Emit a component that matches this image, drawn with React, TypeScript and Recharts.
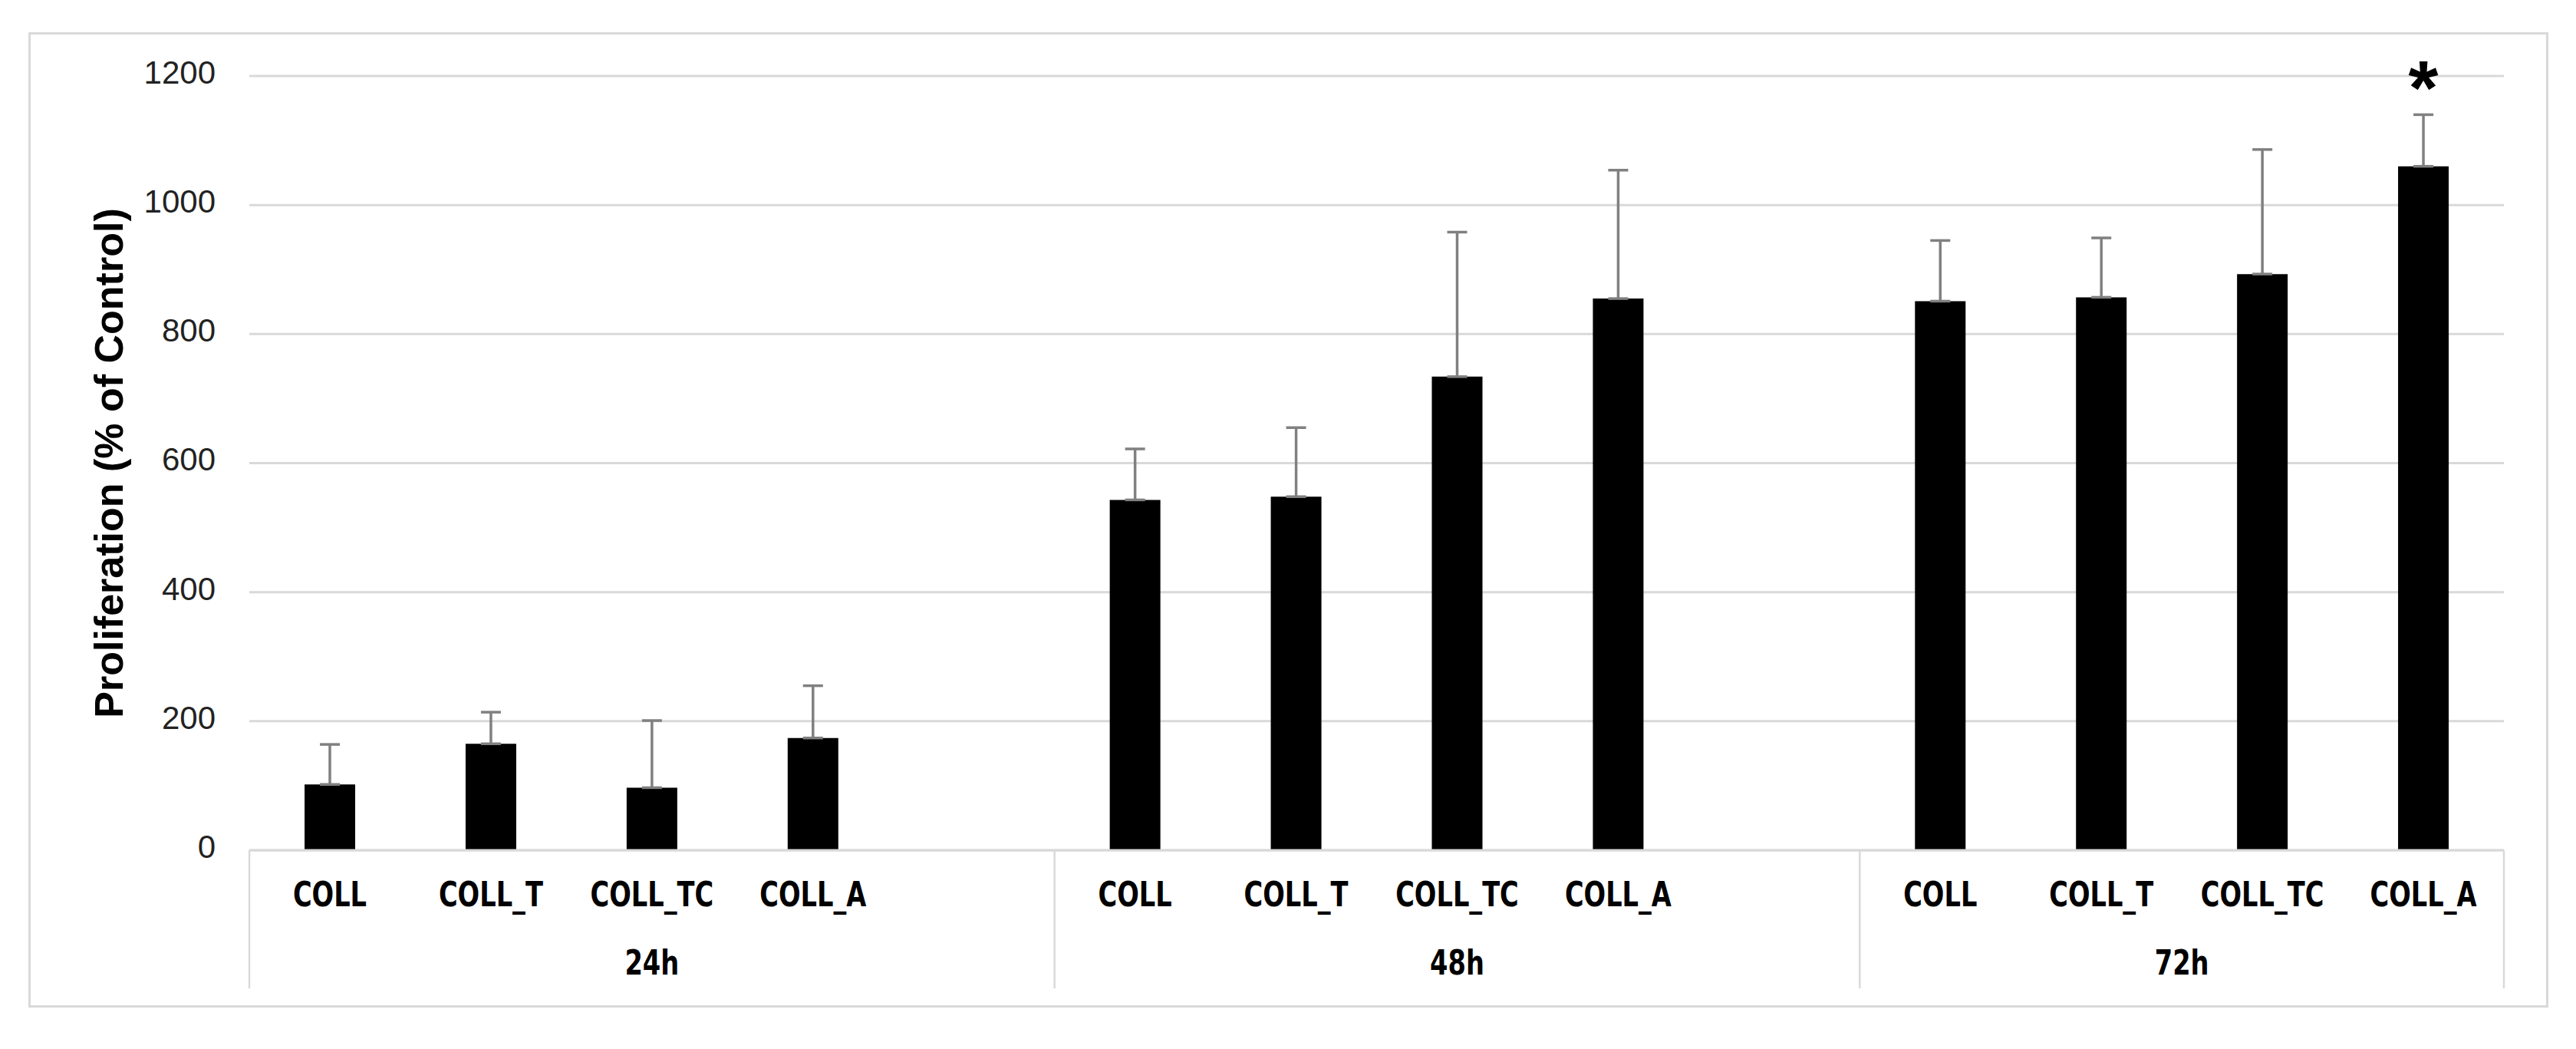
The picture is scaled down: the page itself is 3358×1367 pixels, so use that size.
import React from 'react';
import {
  BarChart,
  Bar,
  XAxis,
  YAxis,
  CartesianGrid,
  ErrorBar,
  LabelList,
} from 'recharts';

const groups = ['24h', '48h', '72h'];
const treatments = ['COLL', 'COLL_T', 'COLL_TC', 'COLL_A'];

// mean proliferation (% of control) per time point
const mean24 = [102, 165, 97, 174];
const mean48 = [543, 548, 734, 855];
const mean72 = [851, 857, 893, 1060];

// upper error (SD) per time point
const err24 = [62, 49, 104, 81];
const err48 = [79, 107, 224, 199];
const err72 = [94, 92, 193, 80];

const sig72 = ['', '', '', '*'];

const yTicks = [0, 200, 400, 600, 800, 1000, 1200];

// Excel left an empty slot after the 24h and 48h groups
const gapAfter = [true, true, false];

const means = [mean24, mean48, mean72];
const errs = [err24, err48, err72];
const sigs = [['', '', '', ''], ['', '', '', ''], sig72];

type Row = {
  key: string;
  label: string;
  group: string;
  value: number | null;
  errRange: [number, number] | null;
  sig: string;
};

const rows: Row[] = [];
groups.forEach((g, gi) => {
  treatments.forEach((t, ti) => {
    rows.push({
      key: `${g}-${t}`,
      label: t,
      group: g,
      value: means[gi][ti],
      errRange: [0, errs[gi][ti]],
      sig: sigs[gi][ti],
    });
  });
  if (gapAfter[gi]) {
    rows.push({ key: `${g}-gap`, label: '', group: g, value: null, errRange: null, sig: '' });
  }
});

const narrow = "'Liberation Sans Narrow', 'DejaVu Sans Condensed', sans-serif";
const grid = '#d9d9d9';

// condensed bold text, squeezed a bit to get close to Calibri's width
const SqueezedText = ({ x, y, children }: { x: number; y: number; children: React.ReactNode }) => (
  <text
    transform={`translate(${x},${y}) scale(0.85,1)`}
    textAnchor="middle"
    dominantBaseline="central"
    fontFamily={narrow}
    fontWeight="bold"
    fontSize={44}
    fill="#000"
  >
    {children}
  </text>
);

const CategoryTick = (props: any) => {
  const { x, y, payload, index, width } = props;
  const row = rows[index];
  if (!row) return null;
  const half = payload && payload.offset ? payload.offset : width / rows.length / 2;
  const first = index === 0 || rows[index - 1].group !== row.group;
  const last = index === rows.length - 1;
  const n = rows.filter((r) => r.group === row.group).length;
  return (
    <g>
      {row.label && <SqueezedText x={x} y={y + 58}>{row.label}</SqueezedText>}
      {first && (
        <>
          <line x1={x - half} x2={x - half} y1={y} y2={y + 180} stroke={grid} strokeWidth={2.5} />
          <SqueezedText x={x - half + n * half} y={y + 147}>{row.group}</SqueezedText>
        </>
      )}
      {last && <line x1={x + half} x2={x + half} y1={y} y2={y + 180} stroke={grid} strokeWidth={2.5} />}
    </g>
  );
};

const StarLabel = (props: any) => {
  const { x, y, width, value } = props;
  if (!value) return null;
  return (
    <text
      x={x + width / 2}
      y={y - 68}
      textAnchor="middle"
      fontFamily="'Liberation Sans', sans-serif"
      fontWeight="bold"
      fontSize={100}
      fill="#000"
    >
      {value}
    </text>
  );
};

export default function App() {
  return (
    <div style={{ position: 'relative', width: 3358, height: 1367, background: '#fff' }}>
      <style>{'body{margin:0;}'}</style>
      <div
        style={{
          position: 'absolute',
          left: 37,
          top: 42,
          width: 3285,
          height: 1271,
          border: `3px solid ${grid}`,
          boxSizing: 'border-box',
        }}
      />
      <div style={{ position: 'absolute', left: 0, top: 0 }}>
        <BarChart
          width={3358}
          height={1367}
          data={rows}
          margin={{ top: 99, right: 94, left: 75, bottom: 79 }}
        >
          <CartesianGrid vertical={false} stroke={grid} strokeWidth={3} />
          <XAxis
            dataKey="key"
            interval={0}
            height={180}
            axisLine={{ stroke: grid, strokeWidth: 3 }}
            tickLine={false}
            tickSize={0}
            tickMargin={0}
            tick={<CategoryTick />}
          />
          <YAxis
            domain={[0, 1200]}
            ticks={yTicks}
            width={250}
            axisLine={false}
            tickLine={false}
            tickSize={0}
            tickMargin={44}
            tick={{ fill: '#222', fontSize: 42, dy: -5, fontFamily: "'Liberation Sans', sans-serif" }}
            label={{
              value: 'Proliferation (% of Control)',
              angle: -90,
              position: 'insideLeft',
              offset: 67,
              style: {
                textAnchor: 'middle',
                fontSize: 52,
                fontWeight: 'bold',
                fill: '#000',
                fontFamily: "'Liberation Sans', sans-serif",
              },
            }}
          />
          <Bar dataKey="value" fill="#000" barSize={66} isAnimationActive={false}>
            <ErrorBar
              dataKey="errRange"
              direction="y"
              width={13}
              stroke="#808080"
              strokeWidth={3.5}
              isAnimationActive={false}
            />
            <LabelList dataKey="sig" content={<StarLabel />} />
          </Bar>
        </BarChart>
      </div>
    </div>
  );
}
